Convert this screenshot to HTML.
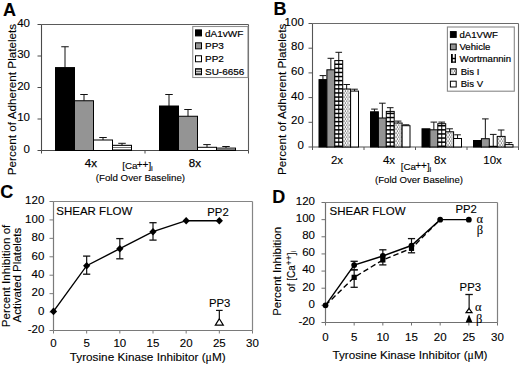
<!DOCTYPE html><html><head><meta charset="utf-8"><style>html,body{margin:0;padding:0;background:#fff;overflow:hidden}svg{display:block}</style></head><body>
<svg width="520" height="365" viewBox="0 0 520 365">
<defs>
<pattern id="hs" width="4" height="2" patternUnits="userSpaceOnUse"><rect width="4" height="2" fill="#fff"/><rect y="1" width="4" height="1" fill="#777"/></pattern>
<pattern id="hs2" width="4" height="2" patternUnits="userSpaceOnUse"><rect width="4" height="2" fill="#ccc"/><rect y="1" width="4" height="1" fill="#666"/></pattern>
<pattern id="brick" x="0" y="0" width="8" height="4" patternUnits="userSpaceOnUse"><rect width="8" height="4" fill="#fff"/><rect y="0" width="8" height="1.6" fill="#000"/><rect x="3.4" width="1.3" height="4" fill="#000"/></pattern>
<pattern id="dots" width="2.6" height="4" patternUnits="userSpaceOnUse"><rect width="2.6" height="4" fill="#fff"/><rect x="0.3" y="0.5" width="1.1" height="1.1" fill="#222"/><rect x="1.6" y="2.5" width="1.1" height="1.1" fill="#222"/></pattern>
</defs>
<style>text{fill:#000;stroke:#000;stroke-width:0.12px}</style>
<rect width="520" height="365" fill="#fff"/>
<text x="3.0" y="15.6" font-size="18" text-anchor="start" font-weight="bold" font-family='"Liberation Sans", sans-serif' >A</text>
<line x1="41.5" y1="24.5" x2="248.5" y2="24.5" stroke="#5a5a5a" stroke-width="1.1" />
<line x1="248.5" y1="24.5" x2="248.5" y2="150.5" stroke="#5a5a5a" stroke-width="1.1" />
<line x1="41.5" y1="24.5" x2="41.5" y2="150.5" stroke="#4a4a4a" stroke-width="1.1" />
<line x1="41.5" y1="150.5" x2="248.5" y2="150.5" stroke="#4a4a4a" stroke-width="1.1" />
<line x1="37.5" y1="150.5" x2="41.5" y2="150.5" stroke="#4a4a4a" stroke-width="1" />
<text x="30" y="152.8" font-size="11.5" text-anchor="end" font-weight="normal" font-family='"Liberation Sans", sans-serif' >0</text>
<line x1="37.5" y1="119.0" x2="41.5" y2="119.0" stroke="#4a4a4a" stroke-width="1" />
<text x="30" y="121.3" font-size="11.5" text-anchor="end" font-weight="normal" font-family='"Liberation Sans", sans-serif' >10</text>
<line x1="37.5" y1="87.5" x2="41.5" y2="87.5" stroke="#4a4a4a" stroke-width="1" />
<text x="30" y="89.8" font-size="11.5" text-anchor="end" font-weight="normal" font-family='"Liberation Sans", sans-serif' >20</text>
<line x1="37.5" y1="56.0" x2="41.5" y2="56.0" stroke="#4a4a4a" stroke-width="1" />
<text x="30" y="58.3" font-size="11.5" text-anchor="end" font-weight="normal" font-family='"Liberation Sans", sans-serif' >30</text>
<line x1="37.5" y1="24.5" x2="41.5" y2="24.5" stroke="#4a4a4a" stroke-width="1" />
<text x="30" y="26.8" font-size="11.5" text-anchor="end" font-weight="normal" font-family='"Liberation Sans", sans-serif' >40</text>
<line x1="41.5" y1="150.5" x2="41.5" y2="153.5" stroke="#4a4a4a" stroke-width="1" />
<line x1="145" y1="150.5" x2="145" y2="153.5" stroke="#4a4a4a" stroke-width="1" />
<line x1="248.5" y1="150.5" x2="248.5" y2="153.5" stroke="#4a4a4a" stroke-width="1" />
<line x1="65.0" y1="46.75" x2="65.0" y2="67.6" stroke="#111" stroke-width="1" />
<line x1="61.25" y1="46.75" x2="68.75" y2="46.75" stroke="#111" stroke-width="1" />
<rect x="55.5" y="67.6" width="19" height="82.9" fill="#000" stroke="#000" stroke-width="1"/>
<line x1="84.0" y1="94.5" x2="84.0" y2="100.75" stroke="#111" stroke-width="1" />
<line x1="80.25" y1="94.5" x2="87.75" y2="94.5" stroke="#111" stroke-width="1" />
<rect x="74.5" y="100.75" width="19" height="49.75" fill="#949494" stroke="#000" stroke-width="1"/>
<line x1="103.0" y1="137.5" x2="103.0" y2="140" stroke="#111" stroke-width="1" />
<line x1="99.25" y1="137.5" x2="106.75" y2="137.5" stroke="#111" stroke-width="1" />
<rect x="93.5" y="140" width="19" height="10.5" fill="#fff" stroke="#000" stroke-width="1"/>
<line x1="122.0" y1="143.3" x2="122.0" y2="145.3" stroke="#111" stroke-width="1" />
<line x1="118.25" y1="143.3" x2="125.75" y2="143.3" stroke="#111" stroke-width="1" />
<rect x="112.5" y="145.3" width="19" height="5.199999999999989" fill="url(#hs)" stroke="#000" stroke-width="1"/>
<line x1="169.0" y1="94.5" x2="169.0" y2="106" stroke="#111" stroke-width="1" />
<line x1="165.25" y1="94.5" x2="172.75" y2="94.5" stroke="#111" stroke-width="1" />
<rect x="159.5" y="106" width="19" height="44.5" fill="#000" stroke="#000" stroke-width="1"/>
<line x1="188.0" y1="109.5" x2="188.0" y2="116.25" stroke="#111" stroke-width="1" />
<line x1="184.25" y1="109.5" x2="191.75" y2="109.5" stroke="#111" stroke-width="1" />
<rect x="178.5" y="116.25" width="19" height="34.25" fill="#949494" stroke="#000" stroke-width="1"/>
<line x1="207.0" y1="144.6" x2="207.0" y2="147.3" stroke="#111" stroke-width="1" />
<line x1="203.25" y1="144.6" x2="210.75" y2="144.6" stroke="#111" stroke-width="1" />
<rect x="197.5" y="147.3" width="19" height="3.1999999999999886" fill="#fff" stroke="#000" stroke-width="1"/>
<line x1="226.0" y1="146.5" x2="226.0" y2="148.1" stroke="#111" stroke-width="1" />
<line x1="222.25" y1="146.5" x2="229.75" y2="146.5" stroke="#111" stroke-width="1" />
<rect x="216.5" y="148.1" width="19" height="2.4000000000000057" fill="url(#hs)" stroke="#000" stroke-width="1"/>
<rect x="192.75" y="26.5" width="55.2" height="51.0" fill="#fff" stroke="#909090" stroke-width="1.1"/>
<rect x="195.5" y="29.9" width="6" height="6" fill="#000" stroke="#000" stroke-width="1"/>
<text transform="translate(205,36.50) scale(1,0.88)" font-size="10" font-family='"Liberation Sans", sans-serif' style="stroke-width:0.2px">dA1vWF</text>
<rect x="195.5" y="42.83" width="6" height="6" fill="#949494" stroke="#000" stroke-width="1"/>
<text transform="translate(205,49.43) scale(1,0.88)" font-size="10" font-family='"Liberation Sans", sans-serif' style="stroke-width:0.2px">PP3</text>
<rect x="195.5" y="55.76" width="6" height="6" fill="#fff" stroke="#000" stroke-width="1"/>
<text transform="translate(205,62.36) scale(1,0.88)" font-size="10" font-family='"Liberation Sans", sans-serif' style="stroke-width:0.2px">PP2</text>
<rect x="195.5" y="68.69" width="6" height="6" fill="url(#hs2)" stroke="#000" stroke-width="1"/>
<text transform="translate(205,75.29) scale(1,0.88)" font-size="10" font-family='"Liberation Sans", sans-serif' style="stroke-width:0.2px">SU-6656</text>
<text x="90.9" y="167.4" font-size="11.5" text-anchor="middle" font-weight="normal" font-family='"Liberation Sans", sans-serif' style="stroke-width:0.25px">4x</text>
<text x="194.9" y="167.4" font-size="11.5" text-anchor="middle" font-weight="normal" font-family='"Liberation Sans", sans-serif' style="stroke-width:0.25px">8x</text>
<text x="122.3" y="169.3" font-size="9.8" font-family='"Liberation Sans", sans-serif'>[Ca<tspan font-size="10" dx="-0.8" dy="-1.1">++</tspan><tspan dy="1.1">]</tspan><tspan font-size="7.8" dx="-0.2" dy="1.5">i</tspan></text>
<text x="140.4" y="181.2" font-size="9.75" text-anchor="middle" font-weight="normal" font-family='"Liberation Sans", sans-serif' >(Fold Over Baseline)</text>
<text transform="translate(16,99.5) rotate(-90)" font-size="11.7" text-anchor="middle" font-family='"Liberation Sans", sans-serif'>Percent of Adherent Platelets</text>
<text x="273.6" y="14.6" font-size="18" text-anchor="start" font-weight="bold" font-family='"Liberation Sans", sans-serif' >B</text>
<line x1="312.5" y1="23.5" x2="518.5" y2="23.5" stroke="#6a6a6a" stroke-width="1.1" />
<line x1="518.5" y1="23.5" x2="518.5" y2="147.0" stroke="#6a6a6a" stroke-width="1.1" />
<line x1="312.5" y1="23.5" x2="312.5" y2="147.0" stroke="#555" stroke-width="1.1" />
<line x1="312.5" y1="147.0" x2="518.5" y2="147.0" stroke="#555" stroke-width="1.1" />
<line x1="308.5" y1="147.0" x2="312.5" y2="147.0" stroke="#555" stroke-width="1" />
<text x="303.8" y="149.1" font-size="11.5" text-anchor="end" font-weight="normal" font-family='"Liberation Sans", sans-serif' >0</text>
<line x1="308.5" y1="122.3" x2="312.5" y2="122.3" stroke="#555" stroke-width="1" />
<text x="303.8" y="124.39999999999999" font-size="11.5" text-anchor="end" font-weight="normal" font-family='"Liberation Sans", sans-serif' >20</text>
<line x1="308.5" y1="97.6" x2="312.5" y2="97.6" stroke="#555" stroke-width="1" />
<text x="303.8" y="99.69999999999999" font-size="11.5" text-anchor="end" font-weight="normal" font-family='"Liberation Sans", sans-serif' >40</text>
<line x1="308.5" y1="72.89999999999999" x2="312.5" y2="72.89999999999999" stroke="#555" stroke-width="1" />
<text x="303.8" y="74.99999999999999" font-size="11.5" text-anchor="end" font-weight="normal" font-family='"Liberation Sans", sans-serif' >60</text>
<line x1="308.5" y1="48.19999999999999" x2="312.5" y2="48.19999999999999" stroke="#555" stroke-width="1" />
<text x="303.8" y="50.29999999999999" font-size="11.5" text-anchor="end" font-weight="normal" font-family='"Liberation Sans", sans-serif' >80</text>
<line x1="308.5" y1="23.499999999999986" x2="312.5" y2="23.499999999999986" stroke="#555" stroke-width="1" />
<text x="303.8" y="25.599999999999987" font-size="11.5" text-anchor="end" font-weight="normal" font-family='"Liberation Sans", sans-serif' >100</text>
<line x1="312.5" y1="147.0" x2="312.5" y2="150.0" stroke="#555" stroke-width="1" />
<line x1="364.0" y1="147.0" x2="364.0" y2="150.0" stroke="#555" stroke-width="1" />
<line x1="415.5" y1="147.0" x2="415.5" y2="150.0" stroke="#555" stroke-width="1" />
<line x1="467.0" y1="147.0" x2="467.0" y2="150.0" stroke="#555" stroke-width="1" />
<line x1="518.5" y1="147.0" x2="518.5" y2="150.0" stroke="#555" stroke-width="1" />
<line x1="322.95" y1="75.60000000000001" x2="322.95" y2="79.60000000000001" stroke="#111" stroke-width="1" />
<line x1="319.65" y1="75.60000000000001" x2="326.25" y2="75.60000000000001" stroke="#111" stroke-width="1" />
<rect x="319.0" y="79.60000000000001" width="7.9" height="67.39999999999999" fill="#000" stroke="#000" stroke-width="1"/>
<line x1="330.84999999999997" y1="58.3" x2="330.84999999999997" y2="69.80000000000001" stroke="#111" stroke-width="1" />
<line x1="327.54999999999995" y1="58.3" x2="334.15" y2="58.3" stroke="#111" stroke-width="1" />
<rect x="326.9" y="69.80000000000001" width="7.9" height="77.19999999999999" fill="#949494" stroke="#000" stroke-width="1"/>
<line x1="338.75" y1="52.3" x2="338.75" y2="60.6" stroke="#111" stroke-width="1" />
<line x1="335.45" y1="52.3" x2="342.05" y2="52.3" stroke="#111" stroke-width="1" />
<rect x="334.8" y="60.6" width="7.9" height="86.4" fill="#fff"/>
<rect x="334.8" y="145.50" width="7.9" height="1.50" fill="#000"/>
<rect x="334.8" y="141.40" width="7.9" height="1.50" fill="#000"/>
<rect x="334.8" y="137.30" width="7.9" height="1.50" fill="#000"/>
<rect x="334.8" y="133.20" width="7.9" height="1.50" fill="#000"/>
<rect x="334.8" y="129.10" width="7.9" height="1.50" fill="#000"/>
<rect x="334.8" y="125.00" width="7.9" height="1.50" fill="#000"/>
<rect x="334.8" y="120.90" width="7.9" height="1.50" fill="#000"/>
<rect x="334.8" y="116.80" width="7.9" height="1.50" fill="#000"/>
<rect x="334.8" y="112.70" width="7.9" height="1.50" fill="#000"/>
<rect x="334.8" y="108.60" width="7.9" height="1.50" fill="#000"/>
<rect x="334.8" y="104.50" width="7.9" height="1.50" fill="#000"/>
<rect x="334.8" y="100.40" width="7.9" height="1.50" fill="#000"/>
<rect x="334.8" y="96.30" width="7.9" height="1.50" fill="#000"/>
<rect x="334.8" y="92.20" width="7.9" height="1.50" fill="#000"/>
<rect x="334.8" y="88.10" width="7.9" height="1.50" fill="#000"/>
<rect x="334.8" y="84.00" width="7.9" height="1.50" fill="#000"/>
<rect x="334.8" y="79.90" width="7.9" height="1.50" fill="#000"/>
<rect x="334.8" y="75.80" width="7.9" height="1.50" fill="#000"/>
<rect x="334.8" y="71.70" width="7.9" height="1.50" fill="#000"/>
<rect x="334.8" y="67.60" width="7.9" height="1.50" fill="#000"/>
<rect x="334.8" y="63.50" width="7.9" height="1.50" fill="#000"/>
<rect x="334.8" y="60.60" width="7.9" height="0.30" fill="#000"/>
<rect x="338.25" y="60.6" width="1.0" height="86.4" fill="#000"/>
<rect x="334.8" y="60.6" width="7.9" height="86.4" fill="none" stroke="#000" stroke-width="1"/>
<line x1="346.65" y1="84.5" x2="346.65" y2="89.0" stroke="#111" stroke-width="1" />
<line x1="343.34999999999997" y1="84.5" x2="349.95" y2="84.5" stroke="#111" stroke-width="1" />
<rect x="342.7" y="89.0" width="7.9" height="58.0" fill="url(#dots)" stroke="#000" stroke-width="1"/>
<line x1="354.55" y1="89.2" x2="354.55" y2="91.10000000000001" stroke="#111" stroke-width="1" />
<line x1="351.25" y1="89.2" x2="357.85" y2="89.2" stroke="#111" stroke-width="1" />
<rect x="350.6" y="91.10000000000001" width="7.9" height="55.89999999999999" fill="#fff" stroke="#000" stroke-width="1"/>
<line x1="374.45" y1="109.10000000000001" x2="374.45" y2="111.80000000000001" stroke="#111" stroke-width="1" />
<line x1="371.15" y1="109.10000000000001" x2="377.75" y2="109.10000000000001" stroke="#111" stroke-width="1" />
<rect x="370.5" y="111.80000000000001" width="7.9" height="35.19999999999999" fill="#000" stroke="#000" stroke-width="1"/>
<line x1="382.34999999999997" y1="103.2" x2="382.34999999999997" y2="118.0" stroke="#111" stroke-width="1" />
<line x1="379.04999999999995" y1="103.2" x2="385.65" y2="103.2" stroke="#111" stroke-width="1" />
<rect x="378.4" y="118.0" width="7.9" height="29.0" fill="#949494" stroke="#000" stroke-width="1"/>
<line x1="390.25" y1="107.7" x2="390.25" y2="111.4" stroke="#111" stroke-width="1" />
<line x1="386.95" y1="107.7" x2="393.55" y2="107.7" stroke="#111" stroke-width="1" />
<rect x="386.3" y="111.4" width="7.9" height="35.599999999999994" fill="#fff"/>
<rect x="386.3" y="145.50" width="7.9" height="1.50" fill="#000"/>
<rect x="386.3" y="141.40" width="7.9" height="1.50" fill="#000"/>
<rect x="386.3" y="137.30" width="7.9" height="1.50" fill="#000"/>
<rect x="386.3" y="133.20" width="7.9" height="1.50" fill="#000"/>
<rect x="386.3" y="129.10" width="7.9" height="1.50" fill="#000"/>
<rect x="386.3" y="125.00" width="7.9" height="1.50" fill="#000"/>
<rect x="386.3" y="120.90" width="7.9" height="1.50" fill="#000"/>
<rect x="386.3" y="116.80" width="7.9" height="1.50" fill="#000"/>
<rect x="386.3" y="112.70" width="7.9" height="1.50" fill="#000"/>
<rect x="389.75" y="111.4" width="1.0" height="35.599999999999994" fill="#000"/>
<rect x="386.3" y="111.4" width="7.9" height="35.599999999999994" fill="none" stroke="#000" stroke-width="1"/>
<line x1="398.15" y1="121.10000000000001" x2="398.15" y2="123.0" stroke="#111" stroke-width="1" />
<line x1="394.84999999999997" y1="121.10000000000001" x2="401.45" y2="121.10000000000001" stroke="#111" stroke-width="1" />
<rect x="394.2" y="123.0" width="7.9" height="24.0" fill="url(#dots)" stroke="#000" stroke-width="1"/>
<line x1="406.05" y1="124.80000000000001" x2="406.05" y2="125.7" stroke="#111" stroke-width="1" />
<line x1="402.75" y1="124.80000000000001" x2="409.35" y2="124.80000000000001" stroke="#111" stroke-width="1" />
<rect x="402.1" y="125.7" width="7.9" height="21.299999999999997" fill="#fff" stroke="#000" stroke-width="1"/>
<rect x="422.0" y="128.8" width="7.9" height="18.19999999999999" fill="#000" stroke="#000" stroke-width="1"/>
<line x1="433.84999999999997" y1="122.10000000000001" x2="433.84999999999997" y2="129.8" stroke="#111" stroke-width="1" />
<line x1="430.54999999999995" y1="122.10000000000001" x2="437.15" y2="122.10000000000001" stroke="#111" stroke-width="1" />
<rect x="429.9" y="129.8" width="7.9" height="17.19999999999999" fill="#949494" stroke="#000" stroke-width="1"/>
<line x1="441.75" y1="122.10000000000001" x2="441.75" y2="123.7" stroke="#111" stroke-width="1" />
<line x1="438.45" y1="122.10000000000001" x2="445.05" y2="122.10000000000001" stroke="#111" stroke-width="1" />
<rect x="437.8" y="123.7" width="7.9" height="23.299999999999997" fill="#fff"/>
<rect x="437.8" y="145.50" width="7.9" height="1.50" fill="#000"/>
<rect x="437.8" y="141.40" width="7.9" height="1.50" fill="#000"/>
<rect x="437.8" y="137.30" width="7.9" height="1.50" fill="#000"/>
<rect x="437.8" y="133.20" width="7.9" height="1.50" fill="#000"/>
<rect x="437.8" y="129.10" width="7.9" height="1.50" fill="#000"/>
<rect x="437.8" y="125.00" width="7.9" height="1.50" fill="#000"/>
<rect x="441.25" y="123.7" width="1.0" height="23.299999999999997" fill="#000"/>
<rect x="437.8" y="123.7" width="7.9" height="23.299999999999997" fill="none" stroke="#000" stroke-width="1"/>
<line x1="449.65" y1="128.8" x2="449.65" y2="131.8" stroke="#111" stroke-width="1" />
<line x1="446.34999999999997" y1="128.8" x2="452.95" y2="128.8" stroke="#111" stroke-width="1" />
<rect x="445.7" y="131.8" width="7.9" height="15.199999999999989" fill="url(#dots)" stroke="#000" stroke-width="1"/>
<line x1="457.55" y1="134.8" x2="457.55" y2="138.5" stroke="#111" stroke-width="1" />
<line x1="454.25" y1="134.8" x2="460.85" y2="134.8" stroke="#111" stroke-width="1" />
<rect x="453.6" y="138.5" width="7.9" height="8.5" fill="#fff" stroke="#000" stroke-width="1"/>
<rect x="473.5" y="140.5" width="7.9" height="6.5" fill="#000" stroke="#000" stroke-width="1"/>
<line x1="485.34999999999997" y1="118.9" x2="485.34999999999997" y2="138.70000000000002" stroke="#111" stroke-width="1" />
<line x1="482.04999999999995" y1="118.9" x2="488.65" y2="118.9" stroke="#111" stroke-width="1" />
<rect x="481.4" y="138.70000000000002" width="7.9" height="8.299999999999983" fill="#949494" stroke="#000" stroke-width="1"/>
<line x1="493.25" y1="134.4" x2="493.25" y2="146.3" stroke="#111" stroke-width="1" />
<line x1="489.95" y1="134.4" x2="496.55" y2="134.4" stroke="#111" stroke-width="1" />
<rect x="489.3" y="146.3" width="7.9" height="0.6999999999999886" fill="#fff"/>
<rect x="489.3" y="146.30" width="7.9" height="0.70" fill="#000"/>
<rect x="492.75" y="146.3" width="1.0" height="0.6999999999999886" fill="#000"/>
<rect x="489.3" y="146.3" width="7.9" height="0.6999999999999886" fill="none" stroke="#000" stroke-width="1"/>
<line x1="501.15" y1="130.0" x2="501.15" y2="136.4" stroke="#111" stroke-width="1" />
<line x1="497.84999999999997" y1="130.0" x2="504.45" y2="130.0" stroke="#111" stroke-width="1" />
<rect x="497.2" y="136.4" width="7.9" height="10.599999999999994" fill="url(#dots)" stroke="#000" stroke-width="1"/>
<line x1="509.05" y1="142.6" x2="509.05" y2="144.6" stroke="#111" stroke-width="1" />
<line x1="505.75" y1="142.6" x2="512.35" y2="142.6" stroke="#111" stroke-width="1" />
<rect x="505.1" y="144.6" width="7.9" height="2.4000000000000057" fill="#fff" stroke="#000" stroke-width="1"/>
<rect x="447.4" y="27" width="66.9" height="64.2" fill="#fff" stroke="#888" stroke-width="1.1"/>
<rect x="450.4" y="31.599999999999998" width="5.8" height="5.8" fill="#000" stroke="#000" stroke-width="1"/>
<text transform="translate(459.5,37.50) scale(1,0.9)" font-size="9.6" font-family='"Liberation Sans", sans-serif' style="stroke-width:0.2px">dA1VWF</text>
<rect x="450.4" y="44.0" width="5.8" height="5.8" fill="#949494" stroke="#000" stroke-width="1"/>
<text transform="translate(459.5,49.90) scale(1,0.9)" font-size="9.6" font-family='"Liberation Sans", sans-serif' style="stroke-width:0.2px">Vehicle</text>
<rect x="451" y="54.00" width="1.8" height="8.7" fill="#000"/>
<rect x="454.7" y="54.00" width="1.2" height="8.7" fill="#000"/>
<rect x="451" y="57.80" width="4.9" height="1.4" fill="#000"/>
<rect x="451" y="61.50" width="4.9" height="1.2" fill="#000"/>
<text transform="translate(459.5,62.30) scale(1,0.9)" font-size="9.6" font-family='"Liberation Sans", sans-serif' style="stroke-width:0.2px">Wortmannin</text>
<rect x="450.4" y="68.8" width="5.8" height="5.8" fill="url(#dots)" stroke="#000" stroke-width="1"/>
<text transform="translate(460.7,74.70) scale(1,0.9)" font-size="9.6" font-family='"Liberation Sans", sans-serif' style="stroke-width:0.2px">Bis I</text>
<rect x="450.4" y="81.2" width="5.8" height="5.8" fill="#fff" stroke="#000" stroke-width="1"/>
<text transform="translate(460.7,87.10) scale(1,0.9)" font-size="9.6" font-family='"Liberation Sans", sans-serif' style="stroke-width:0.2px">Bis V</text>
<text x="337" y="164.4" font-size="11.5" text-anchor="middle" font-weight="normal" font-family='"Liberation Sans", sans-serif' >2x</text>
<text x="389" y="164.4" font-size="11.5" text-anchor="middle" font-weight="normal" font-family='"Liberation Sans", sans-serif' >4x</text>
<text x="440.2" y="164.4" font-size="11.5" text-anchor="middle" font-weight="normal" font-family='"Liberation Sans", sans-serif' >8x</text>
<text x="492.6" y="164.4" font-size="11.5" text-anchor="middle" font-weight="normal" font-family='"Liberation Sans", sans-serif' >10x</text>
<text x="400.8" y="170.2" font-size="9.8" font-family='"Liberation Sans", sans-serif'>[Ca<tspan font-size="10" dx="-0.8" dy="-1.1">++</tspan><tspan dy="1.1">]</tspan><tspan font-size="7.8" dx="-0.2" dy="1.5">i</tspan></text>
<text x="419" y="182.6" font-size="9.6" text-anchor="middle" font-weight="normal" font-family='"Liberation Sans", sans-serif' >(Fold Over Baseline)</text>
<text transform="translate(285.6,99.3) rotate(-90)" font-size="11.7" text-anchor="middle" font-family='"Liberation Sans", sans-serif'>Percent of Adherent Platelets</text>
<text x="0.3" y="197.6" font-size="18" text-anchor="start" font-weight="bold" font-family='"Liberation Sans", sans-serif' >C</text>
<line x1="53.5" y1="201.5" x2="252.5" y2="201.5" stroke="#858585" stroke-width="1.2" />
<line x1="252.5" y1="201.5" x2="252.5" y2="330.5" stroke="#858585" stroke-width="1.2" />
<line x1="53.5" y1="201.5" x2="53.5" y2="330.5" stroke="#7a7a7a" stroke-width="1.2" />
<line x1="53.5" y1="330.5" x2="252.5" y2="330.5" stroke="#7a7a7a" stroke-width="1.2" />
<line x1="49.5" y1="330.5" x2="53.5" y2="330.5" stroke="#7a7a7a" stroke-width="1" />
<text x="44.3" y="333.3" font-size="11.5" text-anchor="end" font-weight="normal" font-family='"Liberation Sans", sans-serif' >-20</text>
<line x1="49.5" y1="312.07142857142856" x2="53.5" y2="312.07142857142856" stroke="#7a7a7a" stroke-width="1" />
<text x="44.3" y="314.87142857142857" font-size="11.5" text-anchor="end" font-weight="normal" font-family='"Liberation Sans", sans-serif' >0</text>
<line x1="49.5" y1="293.64285714285717" x2="53.5" y2="293.64285714285717" stroke="#7a7a7a" stroke-width="1" />
<text x="44.3" y="296.4428571428572" font-size="11.5" text-anchor="end" font-weight="normal" font-family='"Liberation Sans", sans-serif' >20</text>
<line x1="49.5" y1="275.2142857142857" x2="53.5" y2="275.2142857142857" stroke="#7a7a7a" stroke-width="1" />
<text x="44.3" y="278.01428571428573" font-size="11.5" text-anchor="end" font-weight="normal" font-family='"Liberation Sans", sans-serif' >40</text>
<line x1="49.5" y1="256.7857142857143" x2="53.5" y2="256.7857142857143" stroke="#7a7a7a" stroke-width="1" />
<text x="44.3" y="259.5857142857143" font-size="11.5" text-anchor="end" font-weight="normal" font-family='"Liberation Sans", sans-serif' >60</text>
<line x1="49.5" y1="238.35714285714286" x2="53.5" y2="238.35714285714286" stroke="#7a7a7a" stroke-width="1" />
<text x="44.3" y="241.15714285714287" font-size="11.5" text-anchor="end" font-weight="normal" font-family='"Liberation Sans", sans-serif' >80</text>
<line x1="49.5" y1="219.92857142857144" x2="53.5" y2="219.92857142857144" stroke="#7a7a7a" stroke-width="1" />
<text x="44.3" y="222.72857142857146" font-size="11.5" text-anchor="end" font-weight="normal" font-family='"Liberation Sans", sans-serif' >100</text>
<line x1="49.5" y1="201.5" x2="53.5" y2="201.5" stroke="#7a7a7a" stroke-width="1" />
<text x="44.3" y="204.3" font-size="11.5" text-anchor="end" font-weight="normal" font-family='"Liberation Sans", sans-serif' >120</text>
<line x1="53.5" y1="330.5" x2="53.5" y2="333.5" stroke="#7a7a7a" stroke-width="1" />
<text x="53.5" y="347.3" font-size="11.5" text-anchor="middle" font-weight="normal" font-family='"Liberation Sans", sans-serif' >0</text>
<line x1="86.66666666666667" y1="330.5" x2="86.66666666666667" y2="333.5" stroke="#7a7a7a" stroke-width="1" />
<text x="86.66666666666667" y="347.3" font-size="11.5" text-anchor="middle" font-weight="normal" font-family='"Liberation Sans", sans-serif' >5</text>
<line x1="119.83333333333334" y1="330.5" x2="119.83333333333334" y2="333.5" stroke="#7a7a7a" stroke-width="1" />
<text x="119.83333333333334" y="347.3" font-size="11.5" text-anchor="middle" font-weight="normal" font-family='"Liberation Sans", sans-serif' >10</text>
<line x1="153.0" y1="330.5" x2="153.0" y2="333.5" stroke="#7a7a7a" stroke-width="1" />
<text x="153.0" y="347.3" font-size="11.5" text-anchor="middle" font-weight="normal" font-family='"Liberation Sans", sans-serif' >15</text>
<line x1="186.16666666666669" y1="330.5" x2="186.16666666666669" y2="333.5" stroke="#7a7a7a" stroke-width="1" />
<text x="186.16666666666669" y="347.3" font-size="11.5" text-anchor="middle" font-weight="normal" font-family='"Liberation Sans", sans-serif' >20</text>
<line x1="219.33333333333334" y1="330.5" x2="219.33333333333334" y2="333.5" stroke="#7a7a7a" stroke-width="1" />
<text x="219.33333333333334" y="347.3" font-size="11.5" text-anchor="middle" font-weight="normal" font-family='"Liberation Sans", sans-serif' >25</text>
<line x1="252.5" y1="330.5" x2="252.5" y2="333.5" stroke="#7a7a7a" stroke-width="1" />
<text x="252.5" y="347.3" font-size="11.5" text-anchor="middle" font-weight="normal" font-family='"Liberation Sans", sans-serif' >30</text>
<text x="147.7" y="360.5" font-size="11.75" text-anchor="middle" font-weight="normal" font-family='"Liberation Sans", sans-serif' >Tyrosine Kinase Inhibitor (<tspan font-family='"Liberation Serif", serif'>μ</tspan>M)</text>
<text x="56.3" y="214.9" font-size="11.5" text-anchor="start" font-weight="normal" font-family='"Liberation Sans", sans-serif' >SHEAR FLOW</text>
<text x="218" y="215.7" font-size="11.3" text-anchor="middle" font-weight="normal" font-family='"Liberation Sans", sans-serif' >PP2</text>
<text x="219.6" y="306.9" font-size="11.3" text-anchor="middle" font-weight="normal" font-family='"Liberation Sans", sans-serif' >PP3</text>
<text transform="translate(9.6,275.9) rotate(-90)" font-size="11.6" text-anchor="middle" font-family='"Liberation Sans", sans-serif'>Percent Inhibition of</text>
<text transform="translate(21.1,275.1) rotate(-90)" font-size="11.5" text-anchor="middle" font-family='"Liberation Sans", sans-serif'>Activated Platelets</text>
<line x1="86.66666666666667" y1="256.1" x2="86.66666666666667" y2="274.2" stroke="#111" stroke-width="1.2" />
<line x1="83.06666666666668" y1="256.1" x2="90.26666666666667" y2="256.1" stroke="#111" stroke-width="1.3" />
<line x1="83.06666666666668" y1="274.2" x2="90.26666666666667" y2="274.2" stroke="#111" stroke-width="1.3" />
<line x1="119.83333333333334" y1="238.6" x2="119.83333333333334" y2="258.8" stroke="#111" stroke-width="1.2" />
<line x1="116.23333333333335" y1="238.6" x2="123.43333333333334" y2="238.6" stroke="#111" stroke-width="1.3" />
<line x1="116.23333333333335" y1="258.8" x2="123.43333333333334" y2="258.8" stroke="#111" stroke-width="1.3" />
<line x1="153.0" y1="222.7" x2="153.0" y2="240.1" stroke="#111" stroke-width="1.2" />
<line x1="149.4" y1="222.7" x2="156.6" y2="222.7" stroke="#111" stroke-width="1.3" />
<line x1="149.4" y1="240.1" x2="156.6" y2="240.1" stroke="#111" stroke-width="1.3" />
<polyline points="53.50,311.40 86.67,265.70 119.83,248.70 153.00,231.70 186.17,220.70 219.33,220.70" fill="none" stroke="#000" stroke-width="1.4"/>
<path d="M53.50,307.60 L57.10,311.40 L53.50,315.20 L49.90,311.40 Z" fill="#000"/>
<path d="M86.67,261.90 L90.27,265.70 L86.67,269.50 L83.07,265.70 Z" fill="#000"/>
<path d="M119.83,244.90 L123.43,248.70 L119.83,252.50 L116.23,248.70 Z" fill="#000"/>
<path d="M153.00,227.90 L156.60,231.70 L153.00,235.50 L149.40,231.70 Z" fill="#000"/>
<path d="M186.17,216.90 L189.77,220.70 L186.17,224.50 L182.57,220.70 Z" fill="#000"/>
<path d="M219.33,216.90 L222.93,220.70 L219.33,224.50 L215.73,220.70 Z" fill="#000"/>
<line x1="219.33333333333334" y1="310.4" x2="219.33333333333334" y2="318.7" stroke="#111" stroke-width="1.2" />
<line x1="216.03333333333333" y1="310.4" x2="222.63333333333335" y2="310.4" stroke="#111" stroke-width="1.2" />
<path d="M219.33,318.7 L223.33,325.2 L215.33,325.2 Z" fill="#fff" stroke="#000" stroke-width="1.2"/>
<text x="272.3" y="202.5" font-size="18" text-anchor="start" font-weight="bold" font-family='"Liberation Sans", sans-serif' >D</text>
<line x1="325.5" y1="202.5" x2="497.5" y2="202.5" stroke="#808080" stroke-width="1.2" />
<line x1="497.5" y1="202.5" x2="497.5" y2="322.5" stroke="#808080" stroke-width="1.2" />
<line x1="325.5" y1="202.5" x2="325.5" y2="322.5" stroke="#707070" stroke-width="1.2" />
<line x1="325.5" y1="322.5" x2="497.5" y2="322.5" stroke="#707070" stroke-width="1.2" />
<line x1="321.5" y1="322.5" x2="325.5" y2="322.5" stroke="#707070" stroke-width="1" />
<text x="315" y="324.9" font-size="11.5" text-anchor="end" font-weight="normal" font-family='"Liberation Sans", sans-serif' >-20</text>
<line x1="321.5" y1="305.35714285714283" x2="325.5" y2="305.35714285714283" stroke="#707070" stroke-width="1" />
<text x="315" y="307.7571428571428" font-size="11.5" text-anchor="end" font-weight="normal" font-family='"Liberation Sans", sans-serif' >0</text>
<line x1="321.5" y1="288.2142857142857" x2="325.5" y2="288.2142857142857" stroke="#707070" stroke-width="1" />
<text x="315" y="290.6142857142857" font-size="11.5" text-anchor="end" font-weight="normal" font-family='"Liberation Sans", sans-serif' >20</text>
<line x1="321.5" y1="271.07142857142856" x2="325.5" y2="271.07142857142856" stroke="#707070" stroke-width="1" />
<text x="315" y="273.47142857142853" font-size="11.5" text-anchor="end" font-weight="normal" font-family='"Liberation Sans", sans-serif' >40</text>
<line x1="321.5" y1="253.92857142857144" x2="325.5" y2="253.92857142857144" stroke="#707070" stroke-width="1" />
<text x="315" y="256.3285714285714" font-size="11.5" text-anchor="end" font-weight="normal" font-family='"Liberation Sans", sans-serif' >60</text>
<line x1="321.5" y1="236.78571428571428" x2="325.5" y2="236.78571428571428" stroke="#707070" stroke-width="1" />
<text x="315" y="239.18571428571428" font-size="11.5" text-anchor="end" font-weight="normal" font-family='"Liberation Sans", sans-serif' >80</text>
<line x1="321.5" y1="219.64285714285717" x2="325.5" y2="219.64285714285717" stroke="#707070" stroke-width="1" />
<text x="315" y="222.04285714285717" font-size="11.5" text-anchor="end" font-weight="normal" font-family='"Liberation Sans", sans-serif' >100</text>
<line x1="321.5" y1="202.5" x2="325.5" y2="202.5" stroke="#707070" stroke-width="1" />
<text x="315" y="204.9" font-size="11.5" text-anchor="end" font-weight="normal" font-family='"Liberation Sans", sans-serif' >120</text>
<line x1="325.5" y1="322.5" x2="325.5" y2="325.5" stroke="#707070" stroke-width="1" />
<text x="325.5" y="340.6" font-size="11.5" text-anchor="middle" font-weight="normal" font-family='"Liberation Sans", sans-serif' >0</text>
<line x1="354.1666666666667" y1="322.5" x2="354.1666666666667" y2="325.5" stroke="#707070" stroke-width="1" />
<text x="354.1666666666667" y="340.6" font-size="11.5" text-anchor="middle" font-weight="normal" font-family='"Liberation Sans", sans-serif' >5</text>
<line x1="382.8333333333333" y1="322.5" x2="382.8333333333333" y2="325.5" stroke="#707070" stroke-width="1" />
<text x="382.8333333333333" y="340.6" font-size="11.5" text-anchor="middle" font-weight="normal" font-family='"Liberation Sans", sans-serif' >10</text>
<line x1="411.5" y1="322.5" x2="411.5" y2="325.5" stroke="#707070" stroke-width="1" />
<text x="411.5" y="340.6" font-size="11.5" text-anchor="middle" font-weight="normal" font-family='"Liberation Sans", sans-serif' >15</text>
<line x1="440.1666666666667" y1="322.5" x2="440.1666666666667" y2="325.5" stroke="#707070" stroke-width="1" />
<text x="440.1666666666667" y="340.6" font-size="11.5" text-anchor="middle" font-weight="normal" font-family='"Liberation Sans", sans-serif' >20</text>
<line x1="468.83333333333337" y1="322.5" x2="468.83333333333337" y2="325.5" stroke="#707070" stroke-width="1" />
<text x="468.83333333333337" y="340.6" font-size="11.5" text-anchor="middle" font-weight="normal" font-family='"Liberation Sans", sans-serif' >25</text>
<line x1="497.5" y1="322.5" x2="497.5" y2="325.5" stroke="#707070" stroke-width="1" />
<text x="497.5" y="340.6" font-size="11.5" text-anchor="middle" font-weight="normal" font-family='"Liberation Sans", sans-serif' >30</text>
<text x="410" y="359.2" font-size="11.7" text-anchor="middle" font-weight="normal" font-family='"Liberation Sans", sans-serif' >Tyrosine Kinase Inhibitor (<tspan font-family='"Liberation Serif", serif'>μ</tspan>M)</text>
<text x="329.5" y="214.8" font-size="11.5" text-anchor="start" font-weight="normal" font-family='"Liberation Sans", sans-serif' >SHEAR FLOW</text>
<text x="466.2" y="213" font-size="11.3" text-anchor="middle" font-weight="normal" font-family='"Liberation Sans", sans-serif' >PP2</text>
<text x="470.3" y="290.5" font-size="11.3" text-anchor="middle" font-weight="normal" font-family='"Liberation Sans", sans-serif' >PP3</text>
<text transform="translate(281.3,271.4) rotate(-90)" font-size="11.5" text-anchor="middle" font-family='"Liberation Sans", sans-serif'>Percent Inhibition</text>
<text transform="translate(295,271.5) rotate(-90)" font-size="10" text-anchor="middle" font-family='"Liberation Sans", sans-serif'>of [Ca<tspan font-size="8.5" dy="-3">++</tspan><tspan dy="3">]</tspan><tspan font-size="6.5" dy="1.2">i</tspan></text>
<line x1="354.1666666666667" y1="261.3" x2="354.1666666666667" y2="269.8" stroke="#111" stroke-width="1.2" />
<line x1="350.56666666666666" y1="261.3" x2="357.7666666666667" y2="261.3" stroke="#111" stroke-width="1.3" />
<line x1="350.56666666666666" y1="269.8" x2="357.7666666666667" y2="269.8" stroke="#111" stroke-width="1.3" />
<line x1="354.1666666666667" y1="269.8" x2="354.1666666666667" y2="287.3" stroke="#111" stroke-width="1.2" />
<line x1="350.56666666666666" y1="269.8" x2="357.7666666666667" y2="269.8" stroke="#111" stroke-width="1.3" />
<line x1="350.56666666666666" y1="287.3" x2="357.7666666666667" y2="287.3" stroke="#111" stroke-width="1.3" />
<line x1="382.8333333333333" y1="249.8" x2="382.8333333333333" y2="264.9" stroke="#111" stroke-width="1.2" />
<line x1="379.2333333333333" y1="249.8" x2="386.43333333333334" y2="249.8" stroke="#111" stroke-width="1.3" />
<line x1="379.2333333333333" y1="264.9" x2="386.43333333333334" y2="264.9" stroke="#111" stroke-width="1.3" />
<line x1="411.5" y1="238.6" x2="411.5" y2="252.8" stroke="#111" stroke-width="1.2" />
<line x1="407.9" y1="238.6" x2="415.1" y2="238.6" stroke="#111" stroke-width="1.3" />
<line x1="407.9" y1="252.8" x2="415.1" y2="252.8" stroke="#111" stroke-width="1.3" />
<polyline points="325.50,305.36 354.17,265.07 382.83,255.99 411.50,245.53 440.17,219.64 468.83,219.64" fill="none" stroke="#000" stroke-width="1.4"/>
<polyline points="325.50,305.36 354.17,277.33 382.83,259.93 411.50,248.36 440.17,219.64" fill="none" stroke="#000" stroke-width="1.4" stroke-dasharray="5.5,3"/>
<rect x="351.57" y="274.73" width="5.2" height="5.2" fill="#000"/>
<rect x="380.23" y="257.33" width="5.2" height="5.2" fill="#000"/>
<rect x="408.90" y="245.76" width="5.2" height="5.2" fill="#000"/>
<circle cx="325.50" cy="305.36" r="2.9" fill="#000"/>
<circle cx="354.17" cy="265.07" r="2.9" fill="#000"/>
<circle cx="382.83" cy="255.99" r="2.9" fill="#000"/>
<circle cx="411.50" cy="245.53" r="2.9" fill="#000"/>
<circle cx="440.17" cy="219.64" r="2.9" fill="#000"/>
<circle cx="468.83" cy="219.64" r="2.9" fill="#000"/>
<text x="476.6" y="223.2" font-size="12.5" text-anchor="start" font-weight="normal" font-family='"Liberation Serif", serif'  style="stroke-width:0.1px">α</text>
<text x="476.8" y="233.6" font-size="12.5" text-anchor="start" font-weight="normal" font-family='"Liberation Serif", serif'  style="stroke-width:0.1px">β</text>
<line x1="469.1333333333334" y1="294.5" x2="469.1333333333334" y2="308.4" stroke="#111" stroke-width="1.2" />
<line x1="465.33333333333337" y1="294.5" x2="472.83333333333337" y2="294.5" stroke="#111" stroke-width="1.3" />
<path d="M469.03,308.4 L472.03,312.6 L466.03,312.6 Z" fill="#fff" stroke="#000" stroke-width="1.2"/>
<path d="M469.03,314.6 L472.43,322.4 L465.63,322.4 Z" fill="#000"/>
<text x="475" y="310.5" font-size="12.5" text-anchor="start" font-weight="normal" font-family='"Liberation Serif", serif'  style="stroke-width:0.1px">α</text>
<text x="476" y="323.2" font-size="12.5" text-anchor="start" font-weight="normal" font-family='"Liberation Serif", serif'  style="stroke-width:0.1px">β</text>
</svg></body></html>
